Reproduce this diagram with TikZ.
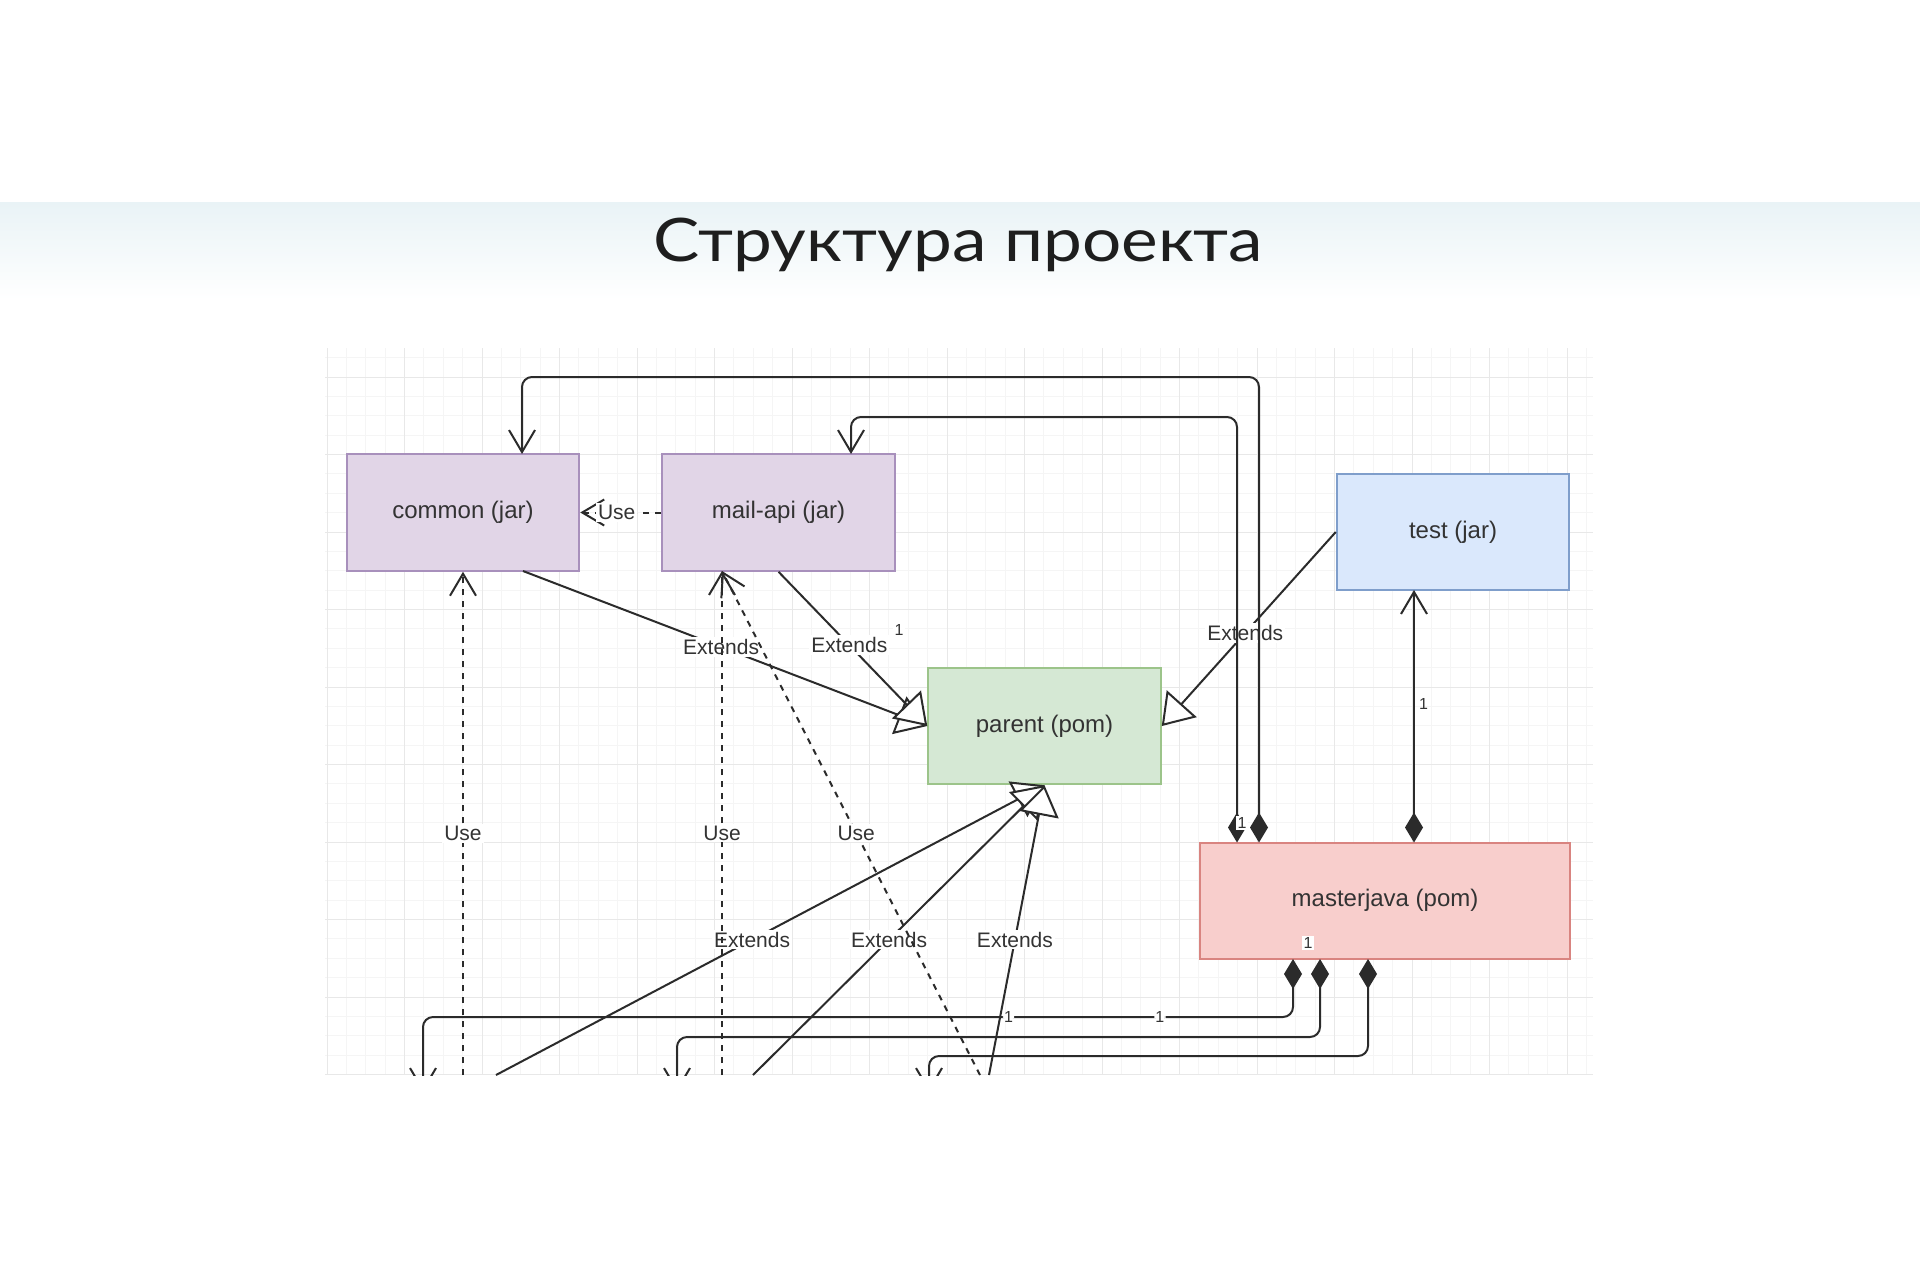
\documentclass[tikz,border=0pt]{standalone}
\usepackage{fontspec}
\setmainfont{Liberation Sans}
\newfontfamily\titlefont{Lato}
\usetikzlibrary{arrows.meta}
\definecolor{pfill}{HTML}{E1D5E7}\definecolor{pline}{HTML}{A890BC}
\definecolor{bfill}{HTML}{DAE8FC}\definecolor{bline}{HTML}{7F9ECB}
\definecolor{gfill}{HTML}{D5E8D4}\definecolor{gline}{HTML}{9CC48A}
\definecolor{rfill}{HTML}{F8CECC}\definecolor{rline}{HTML}{D98480}
\definecolor{txt}{HTML}{333333}
\definecolor{ln}{HTML}{2B2B2B}
\definecolor{band}{HTML}{E9F3F6}
\definecolor{gmaj}{HTML}{E8E8E8}
\definecolor{gmin}{HTML}{F5F5F5}
\definecolor{titlec}{HTML}{1E1E1E}
\begin{document}
\begin{tikzpicture}[x=0.5pt,y=-0.5pt,
  box/.style={draw, line width=1pt, minimum width=116.25pt, minimum height=58.25pt, inner sep=0pt, font=\fontsize{12}{14}\selectfont, text=txt},
  edge/.style={draw=ln, line width=1pt},
  usee/.style={edge, dash pattern=on 3pt off 3pt},
  lbl/.style={fill=white, inner sep=1pt, font=\fontsize{10.5}{12}\selectfont, text=txt},
  one/.style={fill=white, inner sep=0.6pt, font=\fontsize{8}{9}\selectfont, text=txt},
  opn/.tip={Straight Barb[length=11pt,width=13pt]},
  tri/.tip={Triangle[length=15pt,width=20pt,fill=white]},
  dia/.tip={Diamond[length=15pt,width=9pt]}
]
\useasboundingbox (0,0) rectangle (1920,1280);
\fill[white] (0,0) rectangle (1920,1280);
\shade[top color=band, bottom color=white] (0,202) rectangle (1920,300);
\node[font=\titlefont\fontsize{30}{36}\selectfont, text=titlec, anchor=base] (title) at (958,261) {\scalebox{1.155}[1]{Структура проекта}};

\begin{scope}
\clip (325,348) rectangle (1593,1075);
% grid
\foreach \i in {0,...,65} {\draw[gmin, line width=0.5pt] ({327+19.375*\i},348) -- ({327+19.375*\i},1075);}
\foreach \i in {0,...,37} {\draw[gmin, line width=0.5pt] (325,{357.625+19.375*\i}) -- (1593,{357.625+19.375*\i});}
\foreach \i in {0,...,16} {\draw[gmaj, line width=0.5pt] ({327+77.5*\i},348) -- ({327+77.5*\i},1075);}
\foreach \i in {0,...,9} {\draw[gmaj, line width=0.5pt] (325,{377+77.5*\i}) -- (1593,{377+77.5*\i});}

% boxes
\node[box, fill=pfill, draw=pline] (common) at (463,512.5) {common (jar)};
\node[box, fill=pfill, draw=pline] (mailapi) at (778.5,512.5) {mail-api (jar)};
\node[box, fill=bfill, draw=bline] (test) at (1453,532) {test (jar)};
\node[box, fill=gfill, draw=gline] (parent) at (1044.5,726) {parent (pom)};
\node[box, fill=rfill, draw=rline, minimum width=185pt] (mj) at (1385,900.75) {masterjava (pom)};

% coordinates
\coordinate (cbot) at (523,571);
\coordinate (ctop) at (522,454);
\coordinate (mtop) at (851,454);
\coordinate (mj1) at (1259,842.5);
\coordinate (mj2) at (1237,842.5);
\coordinate (mj3) at (1414,842.5);
\coordinate (tbot) at (1414,590);
\coordinate (mjb1) at (1293,959);
\coordinate (mjb2) at (1320,959);
\coordinate (mjb3) at (1368,959);
\coordinate (ea) at (496,1075);
\coordinate (eb) at (753,1075);
\coordinate (ec) at (989,1075);
\coordinate (ua) at (463,1075);
\coordinate (ub) at (722,1075);
\coordinate (uc) at (980,1075);
\coordinate (mbot) at (722,571);
\coordinate (ba) at (423,1092);
\coordinate (bb) at (677,1092);
\coordinate (bc) at (929,1092);

% Extends edges
\draw[edge, -{tri}] (test.west) -- node[lbl, pos=0.52] {Extends} (parent.east);
\draw[edge, -{tri}] (cbot) -- node[lbl, pos=0.49] {Extends} (parent.west);
\draw[edge, -{tri}] (mailapi.south) -- node[lbl, pos=0.476] {Extends} (parent.west);
\node[one] (one1) at (899,630) {1};
\draw[edge, -{tri}] (ea) -- node[lbl, pos=0.467] {Extends} (parent.south);
\draw[edge, -{tri}] (eb) -- node[lbl, pos=0.467] {Extends} (parent.south);
\draw[edge, -{tri}] (ec) -- node[lbl, pos=0.467] {Extends} (parent.south);

% Use edges
\draw[usee, -{opn}] (ua) -- node[lbl, pos=0.48] {Use} (common.south);
\draw[usee, -{opn}] (ub) -- node[lbl, pos=0.48] {Use} (mbot);
\draw[usee, -{opn}] (uc) -- node[lbl, pos=0.48] {Use} (mbot);
\draw[usee, -{opn}] (mailapi.west) -- node[lbl, pos=0.55] {Use} (common.east);

% composition loops from masterjava
\draw[edge, rounded corners=5pt, {dia}-{opn}] (mj1) -- (1259,377) -- (522,377) -- (ctop);
\draw[edge, rounded corners=5pt, {dia}-{opn}] (mj2) -- (1237,417) -- (851,417) -- (mtop);
\node[one] (one2) at (1242,823) {1};
\draw[edge, {dia}-{opn}] (mj3) -- node[pos=0.55, right, inner sep=2pt, font=\fontsize{8}{9}\selectfont, text=txt] {1} (tbot);

\draw[edge, rounded corners=5pt, {dia}-{opn}] (mjb1) -- (1293,1017) -- node[one, pos=0.153] {1} node[one, pos=0.327] {1} (423,1017) -- (ba);
\draw[edge, rounded corners=5pt, {dia}-{opn}] (mjb2) -- (1320,1037) -- (677,1037) -- (bb);
\draw[edge, rounded corners=5pt, {dia}-{opn}] (mjb3) -- (1368,1056) -- (929,1056) -- (bc);
\node[one] (one3) at (1308,943) {1};
\end{scope}
\end{tikzpicture}
\end{document}
